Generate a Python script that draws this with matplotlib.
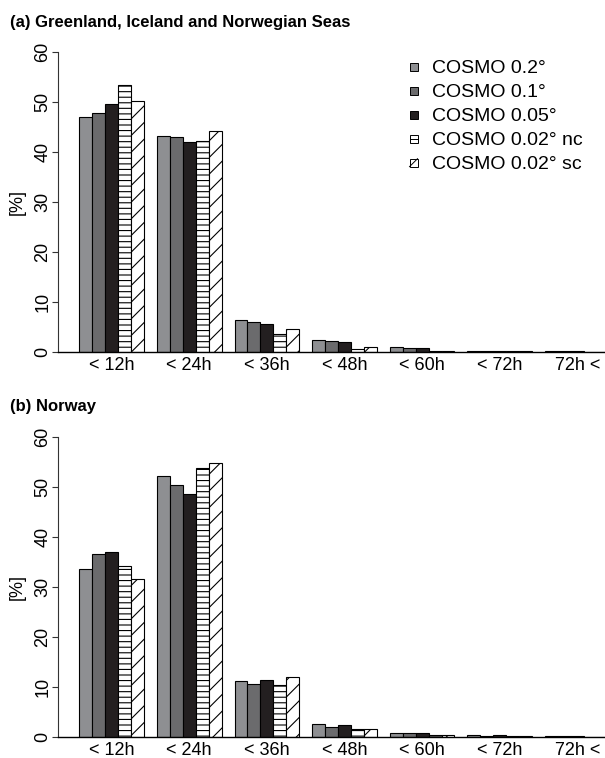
import matplotlib
matplotlib.use("Agg")
import matplotlib.pyplot as plt
from matplotlib.patches import Rectangle
from matplotlib.lines import Line2D

plt.rcParams['font.family'] = ['Liberation Sans', 'DejaVu Sans']
plt.rcParams['hatch.linewidth'] = 0.8

categories = ["< 12h", "< 24h", "< 36h", "< 48h", "< 60h", "< 72h", "72h <"]
series_names = ["COSMO 0.2°", "COSMO 0.1°", "COSMO 0.05°", "COSMO 0.02° nc", "COSMO 0.02° sc"]

# Panel (a) Greenland, Iceland and Norwegian Seas  [%]
seas_02 = [47.0, 43.3, 6.3, 2.3, 0.9, 0.2, 0.05]
seas_01 = [47.8, 43.1, 5.9, 2.15, 0.8, 0.1, 0.05]
seas_005 = [49.7, 42.0, 5.5, 1.9, 0.7, 0.1, 0.05]
seas_002nc = [53.5, 42.2, 3.5, 0.55, 0.15, 0.05, 0.03]
seas_002sc = [50.2, 44.2, 4.5, 0.9, 0.15, 0.05, 0.03]

# Panel (b) Norway  [%]
norway_02 = [33.5, 52.1, 11.1, 2.5, 0.8, 0.25, 0.1]
norway_01 = [36.5, 50.3, 10.5, 2.0, 0.7, 0.2, 0.05]
norway_005 = [37.0, 48.6, 11.3, 2.3, 0.7, 0.25, 0.05]
norway_002nc = [34.2, 53.7, 10.3, 1.5, 0.4, 0.1, 0.03]
norway_002sc = [31.6, 54.8, 11.9, 1.5, 0.4, 0.1, 0.03]

yticks = [0, 10, 20, 30, 40, 50, 60]

facecolors = ["#8e8f92", "#6b6b6d", "#231f20", "white", "white"]
hatches = [None, None, None, "---", "//"]

W, H = 605, 758
fig = plt.figure(figsize=(W / 100, H / 100), dpi=100)

unit = 12.94  # px per bar
x0 = 58
left_lim = -0.64
right_lim = left_lim + (W - x0) / unit


def make_panel(zero_px, top_px, series, title, title_base):
    ax = fig.add_axes([x0 / W, (H - zero_px) / H, (W - x0) / W, (zero_px - top_px) / H])
    for j, vals in enumerate(series):
        lefts = [1 + 6 * g + j for g in range(len(categories))]
        ax.bar(lefts, vals, width=1.0, align='edge', color=facecolors[j],
               edgecolor='black', linewidth=0.8, hatch=hatches[j], zorder=2)
    ax.set_xlim(left_lim, right_lim)
    ax.set_ylim(0, 60)
    ax.set_xticks([1 + 6 * g + 2.5 for g in range(len(categories))])
    ax.set_xticklabels(categories, fontsize=13)
    ax.tick_params(axis='x', length=0, pad=3.5)
    ax.set_yticks(yticks)
    ax.set_yticklabels([str(v) for v in yticks], fontsize=13, rotation=90, va='center')
    ax.tick_params(axis='y', length=4.3, width=0.8, pad=0.5, color='#333333')
    for s in ['top', 'right']:
        ax.spines[s].set_visible(False)
    ax.spines['left'].set_bounds(0, 60)
    ax.spines['left'].set_linewidth(0.8)
    ax.spines['left'].set_color('#333333')
    ax.spines['bottom'].set_linewidth(1.0)
    ax.spines['bottom'].set_zorder(3)
    ax.set_ylabel("[%]", fontsize=13, labelpad=6)
    ax.patch.set_alpha(0)
    fig.text(10 / W, 1 - title_base / H, title, fontsize=12, fontweight='bold',
             ha='left', va='baseline')
    return ax


ax_a = make_panel(351.7, 52.3, [seas_02, seas_01, seas_005, seas_002nc, seas_002sc],
                  "(a) Greenland, Iceland and Norwegian Seas", 26.7)
ax_b = make_panel(736.7, 436.7, [norway_02, norway_01, norway_005, norway_002nc, norway_002sc],
                  "(b) Norway", 411.0)

# legend (panel a)
row0 = 66.7
step = 24.0
half = 4.0
cx = 413.5
for j, name in enumerate(series_names):
    yc = row0 + j * step
    r = Rectangle(((cx - half) / W, 1 - (yc + half) / H), 2 * half / W, 2 * half / H,
                  transform=fig.transFigure, facecolor=facecolors[j],
                  edgecolor='black', linewidth=0.7)
    fig.patches.append(r)
    if hatches[j] == "---":
        fig.lines.append(Line2D([(cx - half) / W, (cx + half) / W], [1 - yc / H, 1 - yc / H],
                                transform=fig.transFigure, color='black', lw=0.7))
    elif hatches[j] == "//":
        fig.lines.append(Line2D([(cx - half) / W, (cx + half) / W],
                                [1 - (yc + half) / H, 1 - (yc - half) / H],
                                transform=fig.transFigure, color='black', lw=0.7))
    fig.text(432 / W, 1 - yc / H, name, fontsize=14, ha='left', va='center_baseline')

fig.savefig("out.png", dpi=100)
